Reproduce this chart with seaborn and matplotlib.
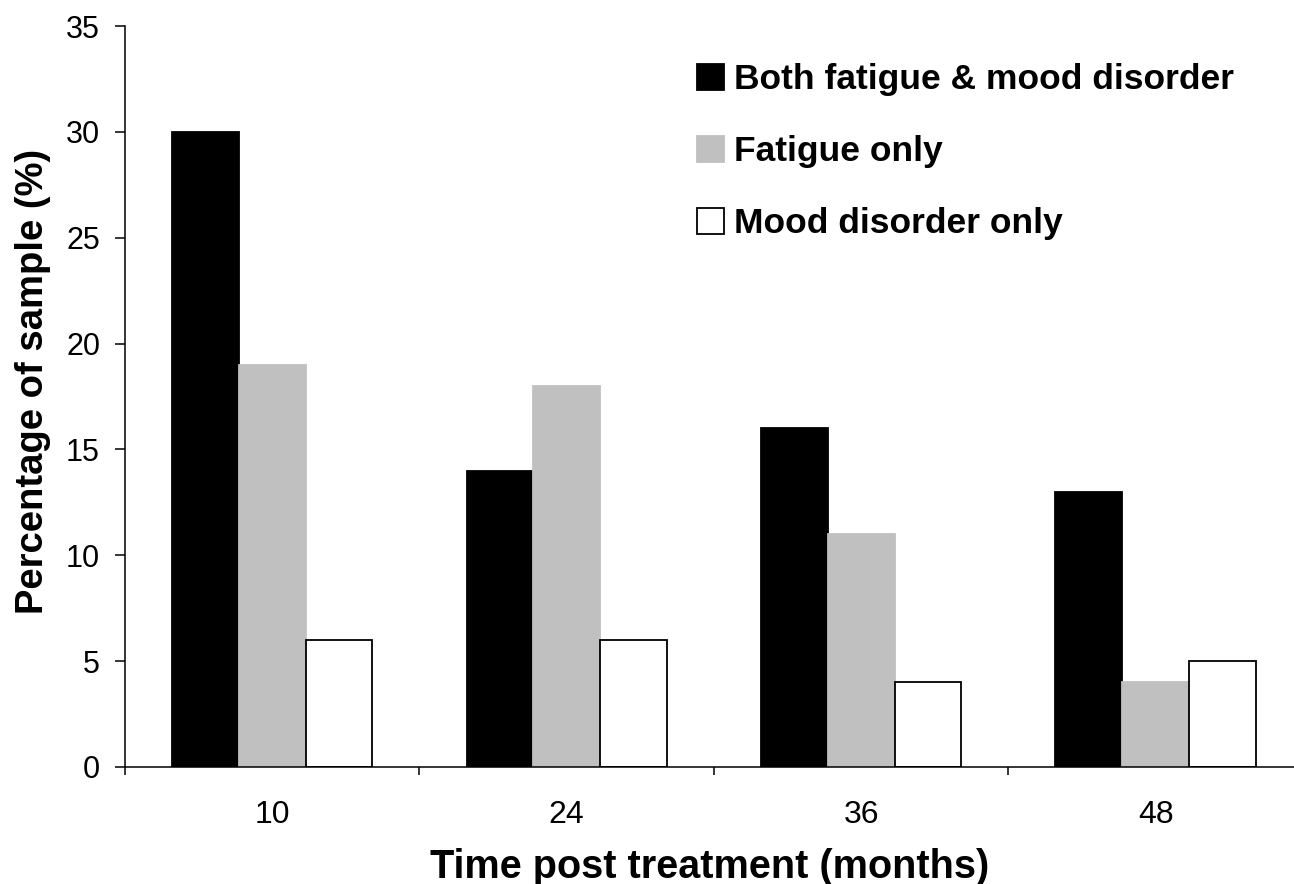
import numpy as np
import pandas as pd
import matplotlib
matplotlib.use("Agg")
import matplotlib.pyplot as plt
import seaborn as sns
from matplotlib.ticker import FixedLocator

# dados
meses = ["10", "24", "36", "48"]
grupos = ["Both fatigue & mood disorder", "Fatigue only", "Mood disorder only"]
ambos = [30, 14, 16, 13]
fadiga = [19, 18, 11, 4]
humor = [6, 6, 4, 5]

cores = ["#000000", "#C0C0C0", "#FFFFFF"]
bordas = ["#000000", "#C0C0C0", "#000000"]

df = pd.DataFrame({
    "Mes": meses * 3,
    "Grupo": np.repeat(grupos, len(meses)),
    "Valor": ambos + fadiga + humor,
})

sns.set_style("white")
plt.rcParams["font.family"] = ["Liberation Sans", "DejaVu Sans"]
plt.rcParams["text.color"] = "black"
plt.rcParams["axes.labelcolor"] = "black"
plt.rcParams["xtick.color"] = "black"
plt.rcParams["ytick.color"] = "black"

fig = plt.figure(figsize=(12.94, 8.84), dpi=100)
ax = fig.add_axes([125 / 1294, 117 / 884, 1169 / 1294, 741 / 884])

sns.barplot(data=df, x="Mes", y="Valor", hue="Grupo", order=meses,
            hue_order=grupos, palette=cores, width=0.68, gap=0,
            ax=ax, legend=True, saturation=1)

for cont, ec in zip(ax.containers, bordas):
    for barra in cont:
        barra.set_edgecolor(ec)
        barra.set_linewidth(1.3)

ax.set_xlim(-0.5, 3.47)
ax.set_ylim(0, 35)
ax.set_yticks(range(0, 36, 5))

# ticks do eixo x entre as categorias
ax.xaxis.set_minor_locator(FixedLocator([-0.5, 0.5, 1.5, 2.5, 3.5]))
ax.tick_params(axis="x", which="major", length=0, pad=24, labelsize=23)
ax.tick_params(axis="x", which="minor", length=6, width=1.1, direction="out", color="black")
ax.tick_params(axis="y", which="major", length=7, width=1.1, direction="out",
               color="black", labelsize=22, pad=11)
ax.tick_params(bottom=True, left=True, which="both")

for lado in ["top", "right"]:
    ax.spines[lado].set_visible(False)
for lado in ["left", "bottom"]:
    ax.spines[lado].set_color("black")
    ax.spines[lado].set_linewidth(1.1)

ax.set_xlabel("Time post treatment (months)", fontsize=28.5, fontweight="bold", labelpad=13)
ax.set_ylabel("Percentage of sample (%)", fontsize=27.5, fontweight="bold", labelpad=11, y=0.52)

handles, labels = ax.get_legend_handles_labels()
for h, ec in zip(handles, bordas):
    h.set_edgecolor(ec)
    h.set_linewidth(1.3)
leg = ax.legend(handles, labels, loc="upper left", bbox_to_anchor=(0.489, 0.95),
                frameon=False, prop={"size": 25.5, "weight": "bold"},
                handlelength=0.76, handleheight=0.76, handletextpad=0.3,
                labelspacing=1.1, borderpad=0, borderaxespad=0)

fig.savefig("out.png", dpi=100)
